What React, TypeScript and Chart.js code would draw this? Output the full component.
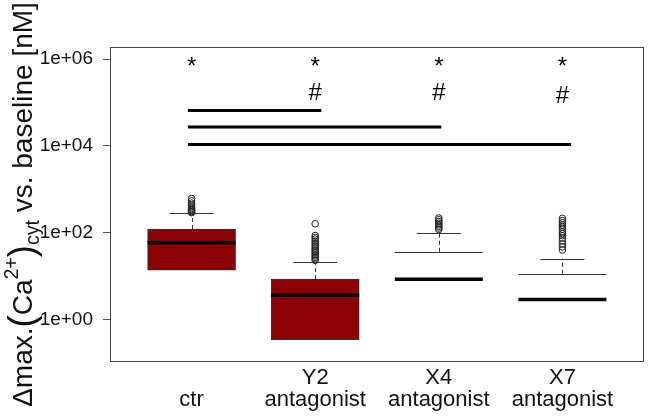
import React, { useEffect, useRef } from 'react';
import { Chart, registerables } from 'chart.js';

Chart.register(...registerables);

const FONT = "'Liberation Sans', Arial, Helvetica, sans-serif";

// ---- data ----
const labelLine1 = ['', 'Y2', 'X4', 'X7'];
const labelLine2 = ['ctr', 'antagonist', 'antagonist', 'antagonist'];

const q1 = [13.7, 0.345, 0, 0];
const medians = [58.6, 3.64, 8.5, 2.9];
const q3 = [121, 8.5, 36.3, 11.3];
const whiskerLow = [13.7, 0.345, 0, 0];
const whiskerHigh = [279, 21, 100, 25];

const outliersCtr = [290, 300, 310, 325, 340, 360, 390, 430, 480, 540, 610];
const outliersY2 = [23, 25, 27, 29, 31, 34, 37, 40, 44, 48, 53, 58, 64, 71, 78, 86, 160];
const outliersX4 = [118, 128, 140, 152, 165, 180, 198, 218];
const outliersX7 = [40, 47, 55, 65, 75, 85, 95, 105, 120, 135, 150, 170, 190, 214];
const outlierGroups = [outliersCtr, outliersY2, outliersX4, outliersX7];

const yTickValues = [1, 100, 10000, 1000000];
const yTickLabels = ['1e+00', '1e+02', '1e+04', '1e+06'];
const yMin = 0.105;
const yMax = 1.89e6;
const xMin = 0.34;
const xMax = 4.66;

const sigLineY = [65000, 27000, 10700];
const sigLineFrom = [0.97, 0.97, 0.97];
const sigLineTo = [2.05, 3.02, 4.07];

const starX = [1, 2, 3, 4];
const starY = [8.8e5, 8.8e5, 8.8e5, 8.8e5];
const hashX = [2, 3, 4];
const hashY = [1.8e5, 1.8e5, 1.5e5];

// ---- styles ----
const BOX_PX = 88;
const BOX_FILL = '#8B0000';
const EDGE = '#333333';

function centeredText(ctx: CanvasRenderingContext2D, s: string, px: number, py: number) {
  const m = ctx.measureText(s);
  const base = py + (m.actualBoundingBoxAscent - m.actualBoundingBoxDescent) / 2;
  ctx.fillText(s, px, base);
}

const overlayPlugin = {
  id: 'overlay',
  afterDatasetsDraw(chart: any) {
    const { ctx, chartArea } = chart;
    const x = chart.scales.x;
    const y = chart.scales.y;
    ctx.save();
    const half = BOX_PX / 2;
    for (let i = 0; i < q3.length; i++) {
      const cx = x.getPixelForValue(i + 1);
      ctx.strokeStyle = EDGE;
      ctx.lineWidth = 1;
      if (whiskerHigh[i] > q3[i]) {
        const y0 = y.getPixelForValue(q3[i]);
        const y1 = y.getPixelForValue(whiskerHigh[i]);
        ctx.setLineDash([4, 3]);
        ctx.beginPath();
        ctx.moveTo(Math.round(cx) + 0.5, y0);
        ctx.lineTo(Math.round(cx) + 0.5, y1);
        ctx.stroke();
        ctx.setLineDash([]);
        ctx.beginPath();
        ctx.moveTo(cx - half / 2, Math.round(y1) + 0.5);
        ctx.lineTo(cx + half / 2, Math.round(y1) + 0.5);
        ctx.stroke();
      }
      if (whiskerLow[i] > 0 && whiskerLow[i] < q1[i]) {
        const y0 = y.getPixelForValue(q1[i]);
        const y1 = y.getPixelForValue(whiskerLow[i]);
        ctx.setLineDash([4, 3]);
        ctx.beginPath();
        ctx.moveTo(Math.round(cx) + 0.5, y0);
        ctx.lineTo(Math.round(cx) + 0.5, y1);
        ctx.stroke();
        ctx.setLineDash([]);
        ctx.beginPath();
        ctx.moveTo(cx - half / 2, Math.round(y1) + 0.5);
        ctx.lineTo(cx + half / 2, Math.round(y1) + 0.5);
        ctx.stroke();
      }
      if (!(q1[i] > 0)) {
        const yt = y.getPixelForValue(q3[i]);
        ctx.beginPath();
        ctx.moveTo(cx - half, Math.round(yt) + 0.5);
        ctx.lineTo(cx + half, Math.round(yt) + 0.5);
        ctx.stroke();
      }
      const ym = y.getPixelForValue(medians[i]);
      ctx.strokeStyle = '#000';
      ctx.lineWidth = 3.5;
      ctx.beginPath();
      ctx.moveTo(cx - half, ym);
      ctx.lineTo(cx + half, ym);
      ctx.stroke();
    }

    ctx.strokeStyle = '#000';
    ctx.lineWidth = 3;
    for (let i = 0; i < sigLineY.length; i++) {
      const py = y.getPixelForValue(sigLineY[i]);
      ctx.beginPath();
      ctx.moveTo(x.getPixelForValue(sigLineFrom[i]), py);
      ctx.lineTo(x.getPixelForValue(sigLineTo[i]), py);
      ctx.stroke();
    }

    ctx.fillStyle = '#000';
    ctx.font = `24px ${FONT}`;
    ctx.textAlign = 'center';
    ctx.textBaseline = 'alphabetic';
    for (let i = 0; i < starX.length; i++) {
      centeredText(ctx, '*', x.getPixelForValue(starX[i]), y.getPixelForValue(starY[i]));
    }
    for (let i = 0; i < hashX.length; i++) {
      centeredText(ctx, '#', x.getPixelForValue(hashX[i]), y.getPixelForValue(hashY[i]));
    }

    ctx.strokeStyle = '#444';
    ctx.lineWidth = 1;
    ctx.strokeRect(
      Math.round(chartArea.left) + 0.5,
      Math.round(chartArea.top) + 0.5,
      Math.round(chartArea.right - chartArea.left) - 1,
      Math.round(chartArea.bottom - chartArea.top) - 1
    );
    ctx.restore();
  },
  afterDraw(chart: any) {
    const { ctx, chartArea } = chart;
    const F = 28;
    const pieces = [
      { t: 'Δmax.', s: 1, dy: 0 },
      { t: '(', s: 1.3, dy: 0.08 },
      { t: 'Ca', s: 1, dy: 0 },
      { t: '2+', s: 0.7, dy: -0.5 },
      { t: ')', s: 1.3, dy: 0.08 },
      { t: 'cyt', s: 0.7, dy: 0.25 },
      { t: ' vs. baseline [nM]', s: 1, dy: 0 },
    ];
    ctx.save();
    ctx.fillStyle = '#111';
    ctx.textAlign = 'left';
    ctx.textBaseline = 'alphabetic';
    let total = 0;
    const widths: number[] = [];
    for (const p of pieces) {
      ctx.font = `${F * p.s}px ${FONT}`;
      const w = ctx.measureText(p.t).width;
      widths.push(w);
      total += w;
    }
    const cy = (chartArea.top + chartArea.bottom) / 2;
    ctx.translate(32, cy);
    ctx.rotate(-Math.PI / 2);
    let cur = -total / 2;
    pieces.forEach((p, i) => {
      ctx.font = `${F * p.s}px ${FONT}`;
      ctx.fillText(p.t, cur, p.dy * F);
      cur += widths[i];
    });
    ctx.restore();
  },
};

export default function App() {
  const ref = useRef<HTMLCanvasElement | null>(null);

  useEffect(() => {
    if (!ref.current) return;
    const boxData = q1
      .map((lo, i) => ({ x: i + 1, y: [lo, q3[i]] as [number, number] }))
      .filter((d) => d.y[0] > 0);
    const outlierData: { x: number; y: number }[] = [];
    outlierGroups.forEach((g, i) => g.forEach((v) => outlierData.push({ x: i + 1, y: v })));

    const chart = new Chart(ref.current, {
      type: 'bar',
      data: {
        datasets: [
          {
            type: 'bar',
            data: boxData as any,
            backgroundColor: BOX_FILL,
            borderColor: EDGE,
            borderWidth: 1,
            borderSkipped: false,
            barThickness: BOX_PX,
            xAxisID: 'x',
            yAxisID: 'y',
            order: 2,
          } as any,
          {
            type: 'scatter',
            data: outlierData as any,
            showLine: false,
            pointStyle: 'circle',
            pointRadius: 3.3,
            pointBackgroundColor: 'rgba(255,255,255,0)',
            pointBorderColor: '#222',
            pointBorderWidth: 1,
            xAxisID: 'x',
            yAxisID: 'y',
            order: 1,
          } as any,
        ],
      },
      options: {
        responsive: false,
        animation: false,
        events: [],
        layout: { padding: { top: 47, right: 3, left: 0, bottom: 0 } },
        plugins: {
          legend: { display: false },
          tooltip: { enabled: false },
        },
        scales: {
          x: {
            type: 'linear',
            min: xMin,
            max: xMax,
            offset: false,
            afterBuildTicks: (s: any) => {
              s.ticks = labelLine2.map((_, i) => ({ value: i + 1 }));
            },
            afterFit: (s: any) => {
              s.height = 57;
            },
            grid: { display: false, drawTicks: false },
            border: { display: false },
            ticks: {
              autoSkip: false,
              maxRotation: 0,
              padding: 5,
              color: '#111',
              font: { family: FONT, size: 22, lineHeight: 1.0 },
              callback: (v: any) => {
                const i = Math.round(Number(v)) - 1;
                return [labelLine1[i], labelLine2[i]];
              },
            },
          },
          y: {
            type: 'logarithmic',
            min: yMin,
            max: yMax,
            afterBuildTicks: (s: any) => {
              s.ticks = yTickValues.map((v) => ({ value: v }));
            },
            afterFit: (s: any) => {
              s.width = 110;
            },
            grid: {
              drawOnChartArea: false,
              drawTicks: true,
              tickLength: 7,
              color: '#555',
            },
            border: { display: false },
            ticks: {
              padding: 10,
              color: '#111',
              font: { family: FONT, size: 19 },
              callback: (v: any) => {
                const i = yTickValues.indexOf(Number(v));
                return i >= 0 ? yTickLabels[i] : '';
              },
            },
          },
        },
      } as any,
      plugins: [overlayPlugin],
    });
    return () => chart.destroy();
  }, []);

  return (
    <canvas
      ref={ref}
      width={649}
      height={419}
      style={{ position: 'fixed', left: 0, top: 0, width: 649, height: 419 }}
    />
  );
}
